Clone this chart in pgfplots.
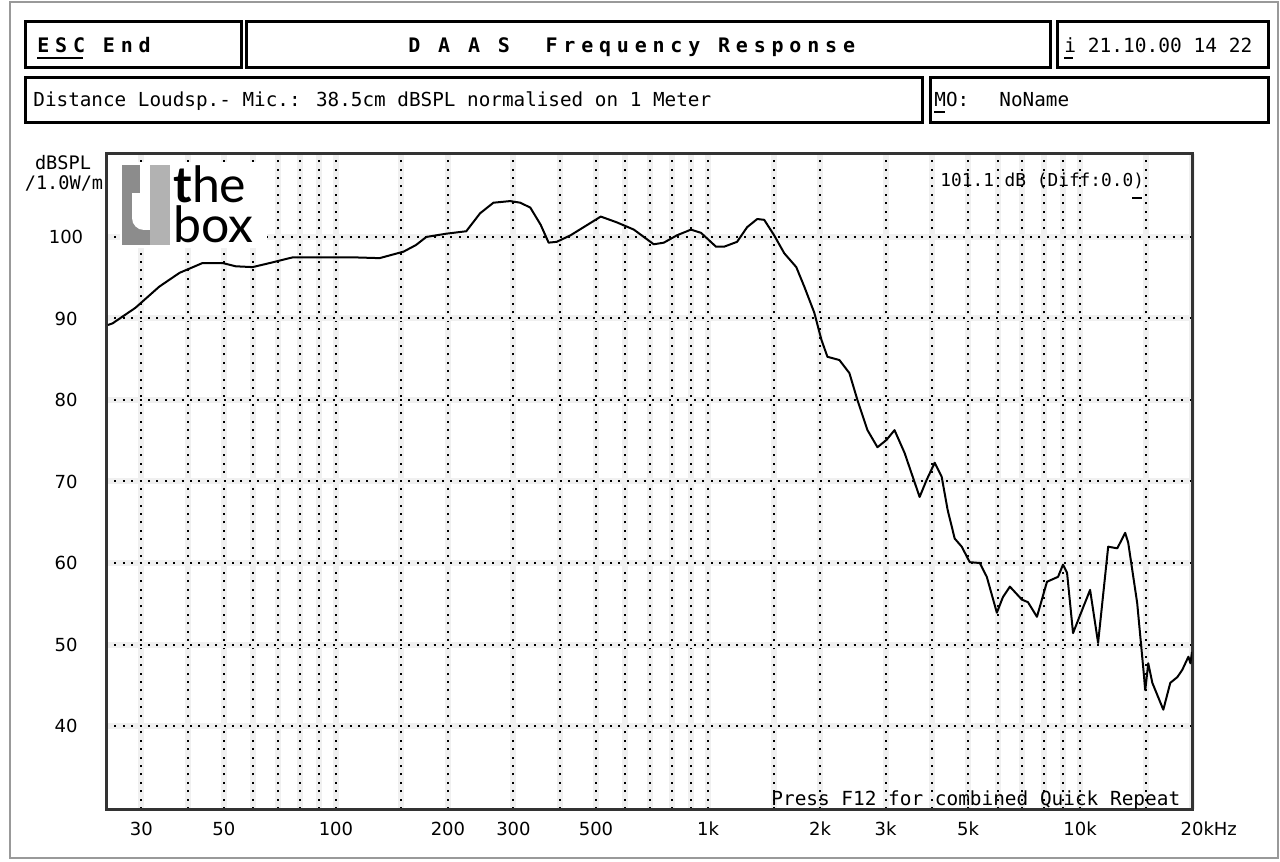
\documentclass[border=0pt]{standalone}
\usepackage{fontspec}
\usepackage{pgfplots}
\pgfplotsset{compat=1.18}
\setmainfont{DejaVu Sans}
\newfontfamily\mono{DejaVu Sans Mono}
\newfontfamily\hdr[LetterSpace=29]{DejaVu Sans Mono}
\newfontfamily\logo{Lato}
\newcommand\fs[1]{\fontsize{#1}{#1}\selectfont}
\newcommand\hsp{\hspace{8.9bp}}

\begin{document}
\begin{tikzpicture}[x=0.5bp,y=0.5bp]
  % page in pixel units, y counted from the bottom (861 - y_px)
  \path[use as bounding box] (0,0) rectangle (1280,861);
  \fill[white] (0,0) rectangle (1280,861);
  \draw[black!40, line width=1.2bp] (10,3) rectangle (1278,859);

  % header boxes
  \begin{scope}[line width=1.5bp]
    \draw (25,839) rectangle (241,793);
    \draw (246,839) rectangle (1050,793);
    \draw (1057,839) rectangle (1268,793);
    \draw (25,783) rectangle (922,738);
    \draw (930,783) rectangle (1268,738);
  \end{scope}
  \node[anchor=base west, inner sep=0, font=\hdr\bfseries\fs{10bp}] at (37,808) {ESC\hsp End};
  \draw[line width=1bp] (37,803) -- (83,803);
  \node[anchor=base west, inner sep=0, font=\hdr\bfseries\fs{10bp}] at (408,808)
    {D\hsp A\hsp A\hsp S\hsp\hsp Frequency\hsp Response};
  \node[anchor=base west, inner sep=0, font=\mono\fs{9.75bp}] at (1064,808) {i 21.10.00 14 22};
  \draw[line width=1bp] (1064,803) -- (1073,803);
  \node[anchor=base west, inner sep=0, font=\mono\fs{9.65bp}] at (33,754) {Distance Loudsp.- Mic.: 38.5cm dBSPL normalised on 1 Meter};
  \node[anchor=base west, inner sep=0, font=\mono\fs{9.65bp}] at (934,754) {MO:};
  \draw[line width=1bp] (934,749) -- (945,749);
  \node[anchor=base west, inner sep=0, font=\mono\fs{9.65bp}] at (999,754) {NoName};

  % y unit
  \node[anchor=base, inner sep=0, font=\mono\fs{9.3bp}] at (63,691) {dBSPL};
  \node[anchor=base, inner sep=0, font=\mono\fs{9.3bp}] at (64,671) {/1.0W/m};

  \begin{axis}[
    at={(53bp,26bp)}, anchor=south west,
    width=543bp, height=327.5bp, scale only axis,
    xmode=log, xmin=24.1, xmax=20000, ymin=29.82, ymax=110.18,
    axis line style={draw=black!80, line width=1.5bp},
    xtick={30,50,100,200,300,500,1000,2000,3000,5000,10000,20000},
    xticklabels={30,50,100,200,300,500,1k,2k,3k,5k,10k,20\rlap{kHz}},
    minor xtick={40,60,70,80,90,150,400,600,700,800,900,1500,4000,6000,7000,8000,9000,15000},
    ytick={40,50,60,70,80,90,100},
    yticklabels={40,50,60,70,80,90,100},
    major tick length=0pt, minor tick length=0pt,
    xmajorgrids, xminorgrids, ymajorgrids,
    grid style={black, line width=1bp, dash pattern=on 1bp off 3.2bp,
      preaction={draw=black!6, line width=3bp, solid}},
    minor grid style={black, line width=1bp, dash pattern=on 1bp off 3.2bp,
      preaction={draw=black!6, line width=3bp, solid}},
    /pgf/number format/assume math mode=true,
    tick label style={font=\fs{9bp}},
    xticklabel style={anchor=center, yshift=-9.75bp},
    yticklabel style={anchor=center, xshift=-20bp},
  ]
  \addplot[black, line width=1bp, line join=round] coordinates {
    (24.4,89.2) (25.1,89.4) (28.9,91.3) (33.5,93.9) (38.0,95.6) (43.8,96.8)
    (49.6,96.8) (53.8,96.4) (59.7,96.3) (66.4,96.8) (76.6,97.5) (90.6,97.5)
    (111,97.5) (131,97.4) (152,98.2) (164,99.0) (175,100.0) (198,100.4)
    (224,100.7) (244,102.9) (265,104.2) (294,104.4) (313,104.2) (333,103.6)
    (355,101.5) (373,99.3) (392,99.4) (427,100.2) (515,102.5) (568,101.8)
    (632,100.9) (715,99.1) (761,99.3) (825,100.2) (900,100.9) (958,100.5)
    (1051,98.8) (1104,98.8) (1197,99.4) (1274,101.2) (1356,102.2) (1416,102.1)
    (1506,100.2) (1603,98.0) (1727,96.3) (1815,93.9) (1931,90.7) (2017,87.4)
    (2094,85.3) (2255,84.9) (2399,83.3) (2521,80.0) (2683,76.3) (2854,74.2)
    (3018,75.1) (3172,76.3) (3376,73.5) (3705,68.1) (3870,70.2) (4067,72.3)
    (4246,70.6) (4407,66.5) (4603,63.0) (4808,62.0) (5052,60.1) (5376,60.0)
    (5615,58.3) (5975,53.9) (6202,55.8) (6477,57.1) (6979,55.5) (7243,55.2)
    (7659,53.4) (8149,57.7) (8725,58.3) (8999,59.8) (9226,58.8) (9575,51.4)
    (10000,53.6) (10640,56.7) (11180,50.2) (11900,62.0) (12590,61.8) (13220,63.7)
    (13470,62.5) (14240,55.1) (14780,47.2) (14970,44.4) (15250,47.7) (15640,45.3)
    (16740,42.0) (17480,45.3) (18260,46.0) (18830,46.9) (19550,48.5) (19800,47.7)
    (20000,49.1)
  };
  \end{axis}

  % logo
  \fill[white] (120,613) rectangle (267,699);
  \fill[black!45] (122,616) rectangle (170,668);
  \fill[white] (132,668) -- (132,643) to[out=-90,in=180] (144,631) -- (150,631) -- (150,668) -- cycle;
  \fill[black!45] (122,668) rectangle (140,696);
  \fill[black!30] (150,616) rectangle (170,696);
  \node[anchor=base west, inner sep=0, align=left,
        font=\logo\fontsize{25bp}{20bp}\selectfont] at (173,618) {\textbf{t}he\\box};

  % readouts
  \node[anchor=base west, inner sep=0, font=\mono\fs{8.9bp}] at (940,674) {101.1 dB (Diff:0.0)};
  \draw[line width=1bp] (1132,663) -- (1142,663);
  \node[anchor=base west, inner sep=0, font=\mono\fs{9.7bp}] at (771,56) {Press F12 for combined Quick Repeat};
\end{tikzpicture}
\end{document}
